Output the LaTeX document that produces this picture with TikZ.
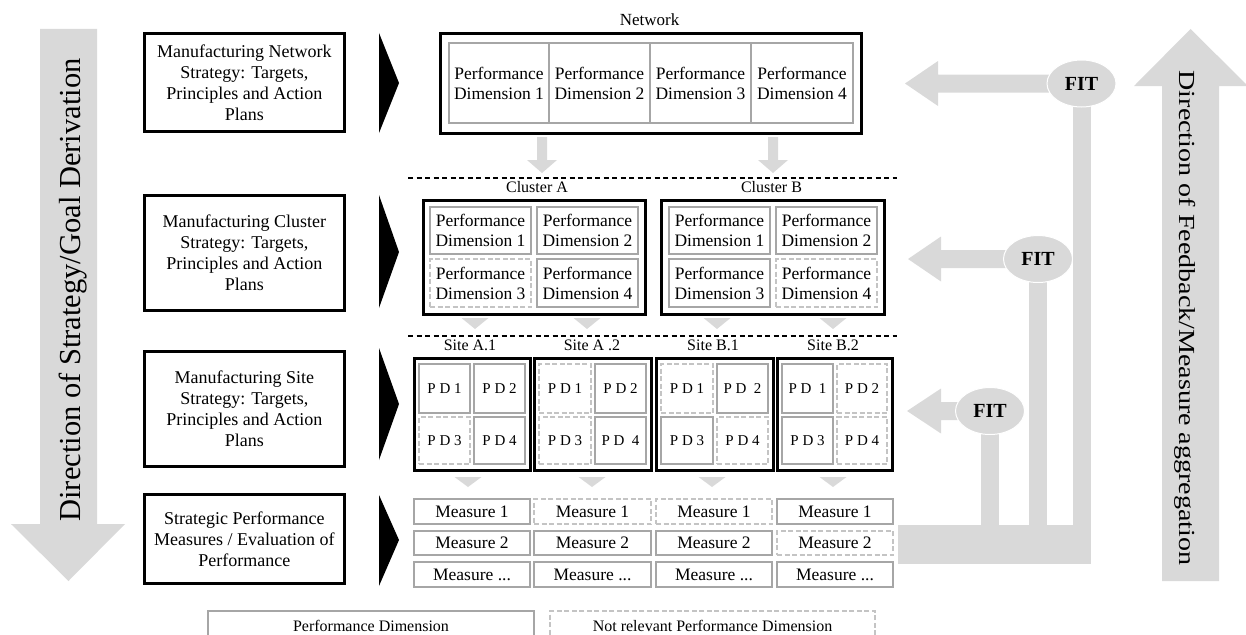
\documentclass[tikz,border=0pt]{standalone}
\usepackage{fontspec}
\setmainfont{Liberation Serif}
\usetikzlibrary{shapes.geometric}

\definecolor{flowgray}{HTML}{D9D9D9}
\definecolor{pdgray}{HTML}{A6A6A6}
\definecolor{nrgray}{HTML}{C4C4C4}

\newcommand\fsz[2]{\fontsize{#1}{#2}\selectfont}
% box node given by its top-left and bottom-right corners
\newcommand\boxat[7]{\node[#2,anchor=north west,minimum width={#5-#3},minimum height={#6-#4}] (#1) at (#3,#4) {#7};}
% small gray pointer between layers
\newcommand\downtri[3]{\fill[flowgray] (#1-13.5,#2) -- (#1+13.5,#2) -- (#1,#3) -- cycle;}

\tikzset{
  levelbox/.style={draw=black,line width=2.6pt,fill=white,inner sep=0pt,align=center,font=\fsz{18}{21}},
  groupbox/.style={draw=black,line width=2.8pt,inner sep=0pt},
  pdbox/.style={draw=pdgray,line width=2pt,fill=white,inner sep=0pt,align=center,font=\fsz{17.5}{20}},
  nrbox/.style={pdbox,draw=nrgray,dash pattern=on 5pt off 2.5pt},
  sitepd/.style={pdbox,font=\fsz{15}{17}},
  sitenr/.style={nrbox,font=\fsz{15}{17}},
  grouplabel/.style={inner sep=0pt,font=\fsz{16}{18}},
  layersep/.style={draw=black,line width=1.1pt,dash pattern=on 5pt off 3.5pt},
  fitnode/.style={ellipse,fill=flowgray,draw=white,line width=1pt,minimum width=69pt,minimum height=47pt,inner sep=0pt,font=\bfseries\fsz{20}{22}},
}

\begin{document}
\begin{tikzpicture}[x=1pt,y=-1pt]
\useasboundingbox (0,0) rectangle (1246,634);
\clip (0,0) rectangle (1246,634);

% ---- direction arrows at the sides ----
\fill[flowgray] (40,29) -- (97,29) -- (97,524) -- (125,524) -- (68.5,581) -- (11,524) -- (40,524) -- cycle;
\node[rotate=90,anchor=base,inner sep=0pt,font=\fsz{30.5}{34}] (down) at (80,290) {Direction of Strategy/Goal Derivation};

\fill[flowgray] (1162,581) -- (1219,581) -- (1219,86) -- (1248,86) -- (1190.5,29) -- (1134,86) -- (1162,86) -- cycle;
\node[rotate=-90,anchor=base,inner sep=0pt,font=\fsz{23}{26}] (up) at (1179,318) {\scalebox{1.22}[1]{Direction of Feedback/Measure aggregation}};

% ---- level descriptions ----
\boxat{lvnet}{levelbox}{143}{32}{343}{130}{Manufacturing Network\\Strategy: Targets,\\Principles and Action\\Plans}
\boxat{lvclu}{levelbox}{143}{194}{343}{309}{Manufacturing Cluster\\Strategy: Targets,\\Principles and Action\\Plans}
\boxat{lvsite}{levelbox}{143}{350}{343}{465}{Manufacturing Site\\Strategy: Targets,\\Principles and Action\\Plans}
\boxat{lvmeas}{levelbox}{143}{493}{343}{582}{Strategic Performance\\Measures / Evaluation of\\Performance}

\fill (379,33) -- (399,83) -- (379,133) -- cycle;
\fill (379,195) -- (399,252) -- (379,308) -- cycle;
\fill (379,348) -- (399,404) -- (379,460) -- cycle;
\fill (379,495) -- (399,540) -- (379,586) -- cycle;

% ---- network ----
\node[grouplabel,font=\fsz{17}{19}] (netlbl) at (649.5,20) {Network};
\boxat{net}{groupbox}{439}{32}{860}{132}{}
\boxat{n1}{pdbox}{448}{42}{548}{122}{Performance\\Dimension 1}
\boxat{n2}{pdbox}{548}{42}{649}{122}{Performance\\Dimension 2}
\boxat{n3}{pdbox}{649}{42}{750}{122}{Performance\\Dimension 3}
\boxat{n4}{pdbox}{750}{42}{852}{122}{Performance\\Dimension 4}

\fill[flowgray] (537,137) -- (547,137) -- (547,160) -- (557,160) -- (542,173) -- (527,160) -- (537,160) -- cycle;
\fill[flowgray] (768,137) -- (778,137) -- (778,160) -- (788,160) -- (773,173) -- (758,160) -- (768,160) -- cycle;

\draw[layersep] (408,178) -- (897,178);

% ---- clusters ----
\node[grouplabel] (clAlbl) at (537,187) {Cluster A};
\node[grouplabel] (clBlbl) at (771.5,187) {Cluster B};
\boxat{clA}{groupbox}{422}{199}{644}{313}{}
\boxat{a1}{pdbox}{429}{206}{530}{253}{Performance\\Dimension 1}
\boxat{a2}{pdbox}{536}{206}{637}{253}{Performance\\Dimension 2}
\boxat{a3}{nrbox}{429}{258}{530}{306}{Performance\\Dimension 3}
\boxat{a4}{pdbox}{536}{258}{637}{306}{Performance\\Dimension 4}
\boxat{clB}{groupbox}{660}{199}{883}{313}{}
\boxat{b1}{pdbox}{668}{206}{769}{253}{Performance\\Dimension 1}
\boxat{b2}{pdbox}{775}{206}{876}{253}{Performance\\Dimension 2}
\boxat{b3}{pdbox}{668}{258}{769}{306}{Performance\\Dimension 3}
\boxat{b4}{nrbox}{775}{258}{876}{306}{Performance\\Dimension 4}

\downtri{475}{318}{329}
\downtri{587}{318}{329}
\downtri{717}{318}{329}
\downtri{833}{318}{329}

\draw[layersep] (408,336) -- (897,336);

% ---- sites ----
\node[grouplabel] (sA1lbl) at (470,345.5) {Site A.1};
\node[grouplabel] (sA2lbl) at (592,345.5) {Site A .2};
\node[grouplabel] (sB1lbl) at (713,345.5) {Site B.1};
\node[grouplabel] (sB2lbl) at (833,345.5) {Site B.2};

\boxat{sA1}{groupbox}{413}{357}{529}{469}{}
\boxat{sA1p1}{sitepd}{418}{363}{469}{412}{P D 1}
\boxat{sA1p2}{sitepd}{473}{363}{524}{412}{P D 2}
\boxat{sA1p3}{sitenr}{418}{416}{469}{463}{P D 3}
\boxat{sA1p4}{sitepd}{473}{416}{524}{463}{P D 4}

\boxat{sA2}{groupbox}{533}{357}{650}{469}{}
\boxat{sA2p1}{sitenr}{538}{363}{590}{412}{P D 1}
\boxat{sA2p2}{sitepd}{594}{363}{645}{412}{P D 2}
\boxat{sA2p3}{sitenr}{538}{416}{590}{463}{P D 3}
\boxat{sA2p4}{sitepd}{594}{416}{645}{463}{P D\ \ 4}

\boxat{sB1}{groupbox}{655}{357}{772}{469}{}
\boxat{sB1p1}{sitenr}{660}{363}{712}{412}{P D 1}
\boxat{sB1p2}{sitepd}{716}{363}{767}{412}{P D\ \ 2}
\boxat{sB1p3}{sitepd}{660}{416}{712}{463}{P D 3}
\boxat{sB1p4}{sitenr}{716}{416}{767}{463}{P D 4}

\boxat{sB2}{groupbox}{776}{357}{891}{469}{}
\boxat{sB2p1}{sitepd}{781}{363}{832}{412}{P D\ \ 1}
\boxat{sB2p2}{sitenr}{836}{363}{886}{412}{P D 2}
\boxat{sB2p3}{sitepd}{781}{416}{832}{463}{P D 3}
\boxat{sB2p4}{sitenr}{836}{416}{886}{463}{P D 4}

\downtri{468}{477}{487}
\downtri{592}{477}{487}
\downtri{712}{477}{487}
\downtri{833}{477}{487}

% ---- measures ----
\boxat{mA1a}{pdbox}{413}{498}{529}{523}{Measure 1}
\boxat{mA1b}{pdbox}{413}{530}{529}{554}{Measure 2}
\boxat{mA1c}{pdbox}{413}{561}{529}{586}{Measure ...}
\boxat{mA2a}{nrbox}{533}{498}{650}{523}{Measure 1}
\boxat{mA2b}{pdbox}{533}{530}{650}{554}{Measure 2}
\boxat{mA2c}{pdbox}{533}{561}{650}{586}{Measure ...}
\boxat{mB1a}{nrbox}{655}{498}{771}{523}{Measure 1}
\boxat{mB1b}{pdbox}{655}{530}{771}{554}{Measure 2}
\boxat{mB1c}{pdbox}{655}{561}{771}{586}{Measure ...}
\boxat{mB2a}{pdbox}{776}{498}{892}{523}{Measure 1}
\boxat{mB2b}{nrbox}{776}{530}{892}{554}{Measure 2}
\boxat{mB2c}{pdbox}{776}{561}{892}{586}{Measure ...}

% ---- feedback paths ----
\fill[flowgray] (1081,74.5) -- (938,74.5) -- (938,61) -- (905,83.5) -- (938,106) -- (938,92.5) -- (1081,92.5) -- cycle;
\fill[flowgray] (1038,250) -- (941,250) -- (941,236.5) -- (908,259) -- (941,281.5) -- (941,268) -- (1038,268) -- cycle;
\fill[flowgray] (990,402) -- (941,402) -- (941,388.5) -- (907,411) -- (941,433.5) -- (941,420) -- (990,420) -- cycle;
\fill[flowgray] (1073,83.5) rectangle (1091,564);
\fill[flowgray] (1029,259) rectangle (1047,525);
\fill[flowgray] (981,411) rectangle (999,525);
\fill[flowgray] (898,525) rectangle (1091,564);

\node[fitnode] (fit1) at (1081.5,83.5) {FIT};
\node[fitnode] (fit2) at (1038,259) {FIT};
\node[fitnode] (fit3) at (990,411) {FIT};

% ---- legend ----
\boxat{legpd}{pdbox,font=\fsz{16}{18}}{207}{610}{533}{639}{Performance Dimension}
\boxat{legnr}{nrbox,font=\fsz{16}{18}}{549}{610}{874}{639}{Not relevant Performance Dimension}
\end{tikzpicture}
\end{document}
